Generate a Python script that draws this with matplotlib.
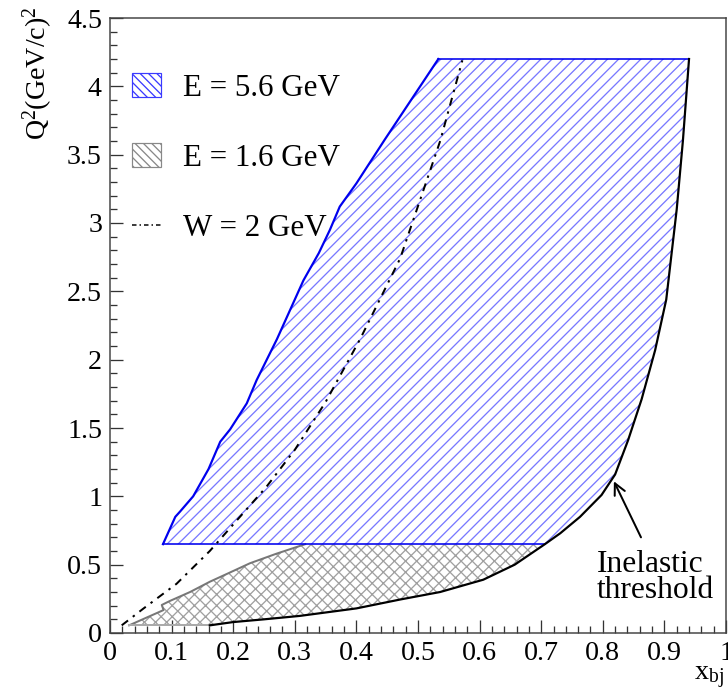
import matplotlib
matplotlib.use("Agg")
import matplotlib.pyplot as plt
from matplotlib.patches import Patch
from matplotlib.lines import Line2D
from matplotlib.ticker import MultipleLocator

# E = 5.6 GeV region, left (upper) edge
x56_left = [0.086, 0.106, 0.114, 0.135, 0.160, 0.179, 0.195, 0.222, 0.238, 0.271,
            0.314, 0.339, 0.357, 0.373, 0.400, 0.446, 0.533]
q56_left = [0.65, 0.85, 0.89, 1.00, 1.20, 1.40, 1.49, 1.68, 1.85, 2.15,
            2.58, 2.78, 2.95, 3.12, 3.29, 3.61, 4.20]
q56_min = 0.65
q56_max = 4.20

# inelastic threshold curve
thr_x = [0.162, 0.200, 0.250, 0.308, 0.400, 0.471, 0.536, 0.606, 0.657, 0.706,
         0.731, 0.763, 0.798, 0.820, 0.841, 0.863, 0.885, 0.903, 0.920, 0.930, 0.940]
thr_q = [0.056, 0.080, 0.100, 0.125, 0.180, 0.245, 0.300, 0.390, 0.500, 0.650,
         0.730, 0.850, 1.010, 1.160, 1.410, 1.710, 2.070, 2.440, 3.100, 3.600, 4.200]

# E = 1.6 GeV region, left (upper) edge
x16_left = [0.031, 0.087, 0.084, 0.097, 0.130, 0.162, 0.192, 0.227, 0.270, 0.317]
q16_left = [0.056, 0.168, 0.205, 0.234, 0.300, 0.375, 0.437, 0.510, 0.580, 0.650]
q16_min = 0.056

# W = 2 GeV line
w2_x = [0.019, 0.054, 0.108, 0.162, 0.173, 0.254, 0.300, 0.350, 0.406, 0.471, 0.536, 0.572]
w2_q = [0.056, 0.178, 0.360, 0.600, 0.656, 1.070, 1.340, 1.690, 2.150, 2.740, 3.600, 4.190]

DPI = 100
PX = 72 / DPI  # points per pixel

plt.rcParams["font.family"] = ["Liberation Serif", "DejaVu Serif"]
plt.rcParams["mathtext.default"] = "regular"
plt.rcParams["hatch.linewidth"] = 1.3 * PX

fig = plt.figure(figsize=(728 / DPI, 694 / DPI), dpi=DPI)
ax = fig.add_axes([110 / 728, 1 - 633 / 694, 616 / 728, 615 / 694])

# gray region (E = 1.6 GeV)
thr_lo = [(x, q) for x, q in zip(thr_x, thr_q) if q <= q16_left[-1] + 1e-9]
gray_poly = [(x16_left[0], q16_min)] + thr_lo + list(zip(x16_left[::-1], q16_left[::-1]))
ax.fill([p[0] for p in gray_poly], [p[1] for p in gray_poly],
        facecolor="white", edgecolor="#a0a0a0", hatch="xxx", linewidth=0)
ax.plot(x16_left, q16_left, color="#777777", lw=2 * PX)
ax.plot([x16_left[0], thr_x[0]], [q16_min, q16_min], color="#aaaaaa", lw=2 * PX)

# blue region (E = 5.6 GeV)
thr_hi = [(x, q) for x, q in zip(thr_x, thr_q) if q >= q56_min - 1e-9]
blue_poly = list(zip(x56_left, q56_left)) + thr_hi[::-1]
ax.fill([p[0] for p in blue_poly], [p[1] for p in blue_poly],
        facecolor="white", edgecolor="#7878ff", hatch="///", linewidth=0)
ax.plot(x56_left, q56_left, color="#0000ee", lw=2.2 * PX)
ax.plot([x56_left[-1], thr_x[-1]], [q56_max, q56_max], color="#0000ee", lw=1.6 * PX)
ax.plot([x56_left[0], thr_hi[0][0]], [q56_min, q56_min], color="#0000ee", lw=1.6 * PX)

# threshold and W = 2 GeV
ax.plot(thr_x, thr_q, color="black", lw=2.2 * PX)
ax.plot(w2_x, w2_q, color="black", lw=2 * PX, linestyle=(0, (4, 3, 1.2, 3)))

ax.set_xlim(0, 1)
ax.set_ylim(0, 4.5)
ax.xaxis.set_minor_locator(MultipleLocator(0.02))
ax.yaxis.set_minor_locator(MultipleLocator(0.1))
ax.set_xticks([0, 0.1, 0.2, 0.3, 0.4, 0.5, 0.6, 0.7, 0.8, 0.9, 1.0])
ax.set_xticklabels(["0", "0.1", "0.2", "0.3", "0.4", "0.5", "0.6", "0.7", "0.8", "0.9", "1"])
ax.set_yticks([0, 0.5, 1, 1.5, 2, 2.5, 3, 3.5, 4, 4.5])
ax.set_yticklabels(["0", "0.5", "1", "1.5", "2", "2.5", "3", "3.5", "4", "4.5"])
ax.tick_params(which="both", direction="in", top=False, right=False,
               labelsize=28 * PX, width=1.3 * PX, color="#333333")
ax.tick_params(which="major", length=13 * PX, pad=8 * PX)
ax.tick_params(which="minor", length=7 * PX)
for s in ax.spines.values():
    s.set_linewidth(1.5 * PX)
    s.set_color("#444444")

fig.text(38 / 728, 1 - 6 / 694, r"Q$^{2}$(GeV/c)$^{2}$", rotation=90,
         ha="center", va="top", fontsize=28 * PX)
fig.text(724 / 728, 1 - 680 / 694, r"x$_{bj}$", ha="right", va="baseline",
         fontsize=28 * PX)

ax.text(0.7906, 0.605, "Inelastic\nthreshold", ha="left", va="top",
        fontsize=31.5 * PX, linespacing=0.85)
ax.annotate("", xy=(0.818, 1.11), xytext=(0.862, 0.70),
            arrowprops=dict(arrowstyle="->", lw=2 * PX, color="black",
                            mutation_scale=28 * PX, shrinkA=0, shrinkB=0))

handles = [
    Patch(facecolor="white", edgecolor="#3a3aff", hatch="\\" * 4, lw=1.2 * PX),
    Patch(facecolor="white", edgecolor="#888888", hatch="\\" * 4, lw=1.2 * PX),
    Line2D([], [], color="black", lw=1.5 * PX, linestyle=(0, (3, 2, 1, 2))),
]
leg = ax.legend(handles, ["E = 5.6 GeV", "E = 1.6 GeV", "W = 2 GeV"],
                loc="upper left", bbox_to_anchor=(0.015, 0.93), frameon=False,
                fontsize=31 * PX, handlelength=0.95, handleheight=0.8,
                handletextpad=0.7, labelspacing=1.3, borderaxespad=0)

fig.savefig("out.png", dpi=DPI)
